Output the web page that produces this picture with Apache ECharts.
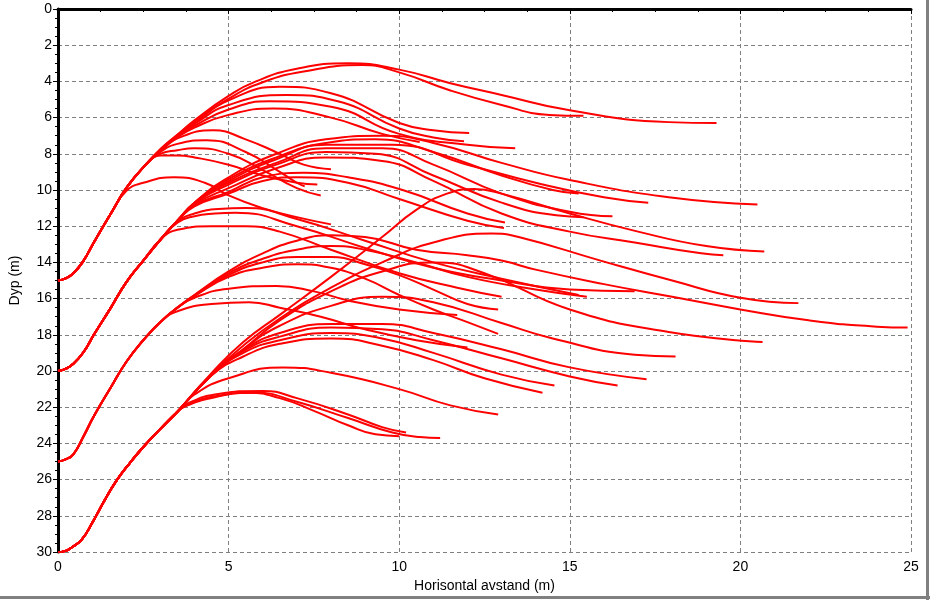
<!DOCTYPE html>
<html><head><meta charset="utf-8">
<script src="https://cdn.jsdelivr.net/npm/echarts@6/dist/echarts.min.js"></script>
<style>html,body{margin:0;padding:0;background:#fff}#c{width:930px;height:600px}</style>
</head><body><div id="c"></div>
<script>
// Axis ticks
const xTicks = [0, 5, 10, 15, 20, 25];
const yTicks = [0, 2, 4, 6, 8, 10, 12, 14, 16, 18, 20, 22, 24, 26, 28, 30];

// Shared trunks (x m, depth m)
const trunkA = [[0,15],[0.2,14.9],[0.45,14.6],[0.75,13.9],[1.05,12.9],[1.55,11.3],[2.0,9.9],[2.5,8.75]];
const trunkB = [[0,20],[0.2,19.9],[0.45,19.6],[0.75,18.95],[1.05,18.0],[1.55,16.5],[2.0,15.1],[2.5,13.9],[3.0,12.75],[3.5,11.7]];
const trunkC = [[0,25],[0.2,24.9],[0.45,24.6],[0.75,23.6],[1.05,22.5],[1.55,20.9],[2.0,19.5],[2.5,18.3],[3.0,17.3],[3.5,16.5]];
const trunkD = [[0,30],[0.2,29.95],[0.4,29.75],[0.7,29.3],[1.0,28.4],[1.35,27.2],[1.7,26.1],[2.1,25.1],[2.5,24.2],[3.0,23.2],[3.5,22.25]];

// Branches continuing from each trunk
const branchesA = [
  [[3.0,7.75],[3.5,6.95],[4.0,6.15],[5.0,4.8],[5.8,4.0],[7.0,3.3],[8.5,3.0],[10,3.35],[11.5,4.1],[13,4.75],[15,5.6],[17.9,6.25],[19.3,6.3]],
  [[3.0,7.75],[3.5,6.95],[4.0,6.2],[5.0,4.95],[6.0,4.05],[7.2,3.45],[8.9,3.1],[10,3.5],[11.5,4.5],[13,5.3],[14.4,5.85],[15.4,5.9]],
  [[3.0,7.8],[3.5,7.0],[4.0,6.3],[5.0,5.05],[6.5,4.3],[8,4.65],[10,6.3],[11,6.7],[12.05,6.85]],
  [[3.0,7.8],[3.5,7.0],[4.0,6.35],[5.0,5.3],[6.7,4.75],[8.2,5.1],[10,6.6],[11,7.1],[11.9,7.3]],
  [[3.0,7.8],[3.5,7.05],[4.0,6.45],[5.0,5.55],[6.2,5.1],[8,5.4],[10,6.9],[12,7.5],[13.4,7.7]],
  [[3.0,7.85],[3.5,7.1],[4.0,6.55],[5.0,5.85],[6.3,5.5],[8,6.0],[9.5,6.9],[10.6,7.35]],
  [[3.0,7.85],[3.5,7.15],[4.55,6.7],[5.5,7.2],[6.5,8.0],[7.2,8.6],[8.0,8.85]],
  [[3.0,7.9],[3.5,7.45],[4.35,7.25],[5.5,7.9],[6.5,9.0],[7.0,9.6],[7.23,9.8]],
  [[3.0,8.0],[3.5,7.8],[4.0,7.7],[5.0,8.0],[6.0,8.9],[7.0,9.9],[7.7,10.3]],
  [[3.0,8.1],[3.5,8.1],[4.0,8.2],[5.0,8.6],[6.0,9.2],[7.0,9.6],[7.6,9.7]],
  [[2.0,10.05],[2.5,9.6],[3.4,9.3],[4.3,9.6],[5.0,10.3],[6.0,11.0],[7.0,11.5],[8.0,11.9]]
];
const branchesB = [
  [[4.0,10.7],[5,9.3],[6.4,8.0],[7.85,7.2],[9.5,7.0],[11,7.4],[13,8.5],[15,9.45],[17.9,10.4],[20.5,10.8]],
  [[4.0,10.7],[5,9.4],[6.4,8.2],[7.85,7.4],[9.3,7.2],[11,7.9],[13,9.2],[14.5,10.0],[15.26,10.2]],
  [[4.0,10.7],[5,9.5],[6.4,8.3],[7.85,7.5],[9.8,7.5],[12,8.6],[14,9.6],[16,10.4],[17.3,10.7]],
  [[4.0,10.75],[5,9.6],[6.4,8.5],[7.85,7.7],[9.5,7.7],[11,8.6],[13,10.2],[15,11.2],[16.25,11.45]],
  [[4.0,10.75],[5,9.7],[6.4,8.6],[7.85,7.9],[9.3,8.0],[11,9.2],[13,10.7],[14.6,11.4],[15.4,11.5]],
  [[4.0,10.8],[5,9.9],[6.4,8.8],[7.85,8.2],[9.5,8.4],[11,9.5],[13,11.3],[15,12.3],[16.9,12.9],[18.85,13.5],[19.5,13.6]],
  [[4.0,10.85],[5,10.1],[6,9.3],[7.2,9.05],[8.5,9.3],[10.1,10.0],[12,11.3],[13.1,11.8]],
  [[4.0,10.9],[5,10.2],[6,9.5],[7,9.3],[8.5,9.6],[10,10.5],[12,11.7],[13.07,12.1]],
  [[3.5,11.75],[4.0,11.3],[4.7,11.05],[5.5,11.0],[7,11.6],[9,12.8],[11,14.0],[13,14.9],[15.26,15.8]],
  [[3.5,11.8],[4.0,11.45],[4.6,11.3],[5.2,11.25],[7,12.0],[9,13.2],[11,14.3],[13,15.0],[15,15.5],[16.9,15.6]],
  [[3.5,12.2],[4.5,12.0],[5.5,12.0],[6.5,12.3],[8,13.3],[10,14.6],[11.7,15.4],[13,15.9]]
];
const branchesC = [
  [[4.0,15.8],[5,14.5],[6,13.5],[7,12.8],[8,12.5],[9,12.6],[10.5,13.3],[12,13.6],[13,13.9],[14,14.4],[16,15.2],[18,15.9],[20,16.6],[22,17.2],[24,17.55],[24.9,17.6]],
  [[4.0,15.8],[5,14.6],[6,13.8],[7,13.3],[8,13.1],[9,13.3],[10.5,14.0],[12,14.8],[14,15.5],[15.5,15.9]],
  [[4.0,15.85],[5,14.7],[6,14.0],[7,13.7],[8,13.7],[9,14.1],[10,14.7],[11,15.5],[12,16.3],[12.9,16.6]],
  [[4.0,15.85],[5,14.8],[6,14.3],[7,14.1],[8,14.3],[9,14.9],[10,15.8],[11,16.6],[12,17.3],[12.9,17.95]],
  [[4.0,15.95],[5,15.45],[6.4,15.3],[7.5,15.6],[8.5,16.1],[10,16.6],[11.7,16.9]],
  [[3.5,16.7],[4.5,16.3],[5.6,16.2],[6.5,16.5],[7.7,17.0],[9,17.7],[10.5,18.3],[12.0,18.7]]
];
const branchesD = [
  [[3.8,21.9],[4.6,21.45],[5.6,21.2],[6.5,21.5],[7.5,22.2],[8.5,23.0],[9.3,23.5],[10,23.6]],
  [[3.8,21.85],[4.6,21.4],[5.8,21.2],[7,21.7],[8.5,22.6],[9.8,23.4],[10.6,23.65],[11.2,23.7]],
  [[3.8,21.8],[4.6,21.3],[6,21.1],[7,21.5],[8.5,22.4],[9.5,23.1],[10.2,23.4]],
  [[4,21.3],[5,20.4],[6.6,19.8],[8,20.1],[10,21.0],[11.5,21.9],[12.9,22.4]],
  [[4.46,20.3],[5.43,19.2],[6.5,18.5],[8,18.2],[9.5,18.6],[11,19.4],[12.5,20.4],[14.2,21.2]],
  [[4.46,20.3],[5.43,19.0],[6.5,18.3],[8,17.9],[9.5,18.2],[11,19.0],[13,20.2],[14.55,20.8]],
  [[4.46,20.3],[5.43,18.9],[6.5,18.1],[8,17.6],[9.5,17.7],[11,18.3],[13,19.3],[15,20.3],[16.4,20.8]],
  [[4.46,20.3],[5.43,18.85],[6.5,17.9],[8,17.4],[9.5,17.4],[11,17.9],[13,18.8],[15,19.8],[17.25,20.45]],
  [[4.46,20.3],[5.43,18.8],[6.5,17.2],[8,15.6],[9.5,14.5],[11,14.0],[12.5,14.6],[15,16.6],[17.9,17.85],[20.65,18.4]],
  [[4.46,20.3],[5.43,18.8],[6.5,17.5],[8,16.4],[9.5,15.9],[11,16.2],[13,17.35],[14.5,18.2],[16.9,19.1],[18.1,19.2]],
  [[4.46,20.25],[5.43,18.6],[6.5,17.1],[8,15.4],[9.5,14.0],[11,12.9],[12.7,12.4],[13.5,12.6],[15.9,13.9],[18,15.0],[20,15.95],[21.7,16.25]],
  [[4.46,20.2],[5.43,18.4],[6.5,16.9],[8,14.8],[9.5,12.6],[10.5,11.1],[11.4,10.2],[12.2,9.95],[13,10.2],[15,11.3],[17,12.3],[19,13.1],[20.7,13.4]]
];

const families = [[trunkA, branchesA],[trunkB, branchesB],[trunkC, branchesC],[trunkD, branchesD]];
const series = [];
families.forEach(([trunk, branches]) => {
  branches.forEach(br => {
    const pts = trunk.filter(p => p[0] < br[0][0]).concat(br);
    series.push({
      type: 'line', data: pts, smooth: 0.5, symbol: 'none',
      lineStyle: { color: '#ff0000', width: 2 }, silent: true, animation: false
    });
  });
});

const chart = echarts.init(document.getElementById('c'), null, { renderer: 'canvas' });
const font = '"Liberation Sans", Arial, sans-serif';
chart.setOption({
  animation: false,
  backgroundColor: '#ffffff',
  grid: { left: 54, right: 19, top: 9, bottom: 48, containLabel: false },
  xAxis: {
    type: 'value', min: 0, max: 25, interval: 5,
    name: 'Horisontal avstand (m)', nameLocation: 'middle', nameGap: 26,
    nameTextStyle: { color: '#000', fontSize: 14, fontFamily: font },
    axisLine: { show: true, lineStyle: { color: '#000', width: 3 } },
    axisTick: { show: true, length: 5, lineStyle: { color: '#000' } },
    minorTick: { show: true, splitNumber: 4, length: 3, lineStyle: { color: '#000' } },
    axisLabel: { color: '#000', fontSize: 14, fontFamily: font, margin: 8,
      formatter: v => xTicks.includes(v) ? String(v) : '' },
    splitLine: { show: true, lineStyle: { color: '#808080', type: [4, 3], width: 1 } }
  },
  yAxis: {
    type: 'value', min: 0, max: 30, interval: 2, inverse: true,
    name: 'Dyp (m)', nameLocation: 'middle', nameGap: 36, nameRotate: 90,
    nameTextStyle: { color: '#000', fontSize: 14, fontFamily: font },
    axisLine: { show: true, lineStyle: { color: '#000', width: 3 } },
    axisTick: { show: true, length: 5, lineStyle: { color: '#000' } },
    minorTick: { show: true, splitNumber: 4, length: 3, lineStyle: { color: '#000' } },
    axisLabel: { color: '#000', fontSize: 14, fontFamily: font, margin: 6,
      formatter: v => yTicks.includes(v) ? String(v) : '' },
    splitLine: { show: true, lineStyle: { color: '#808080', type: [4, 3], width: 1 } }
  },
  graphic: [
    { type: 'rect', shape: { x: 926, y: 0, width: 3, height: 600 }, style: { fill: '#808080' }, silent: true },
    { type: 'rect', shape: { x: 0, y: 596, width: 930, height: 3 }, style: { fill: '#808080' }, silent: true }
  ],
  series: series
});
</script></body></html>
